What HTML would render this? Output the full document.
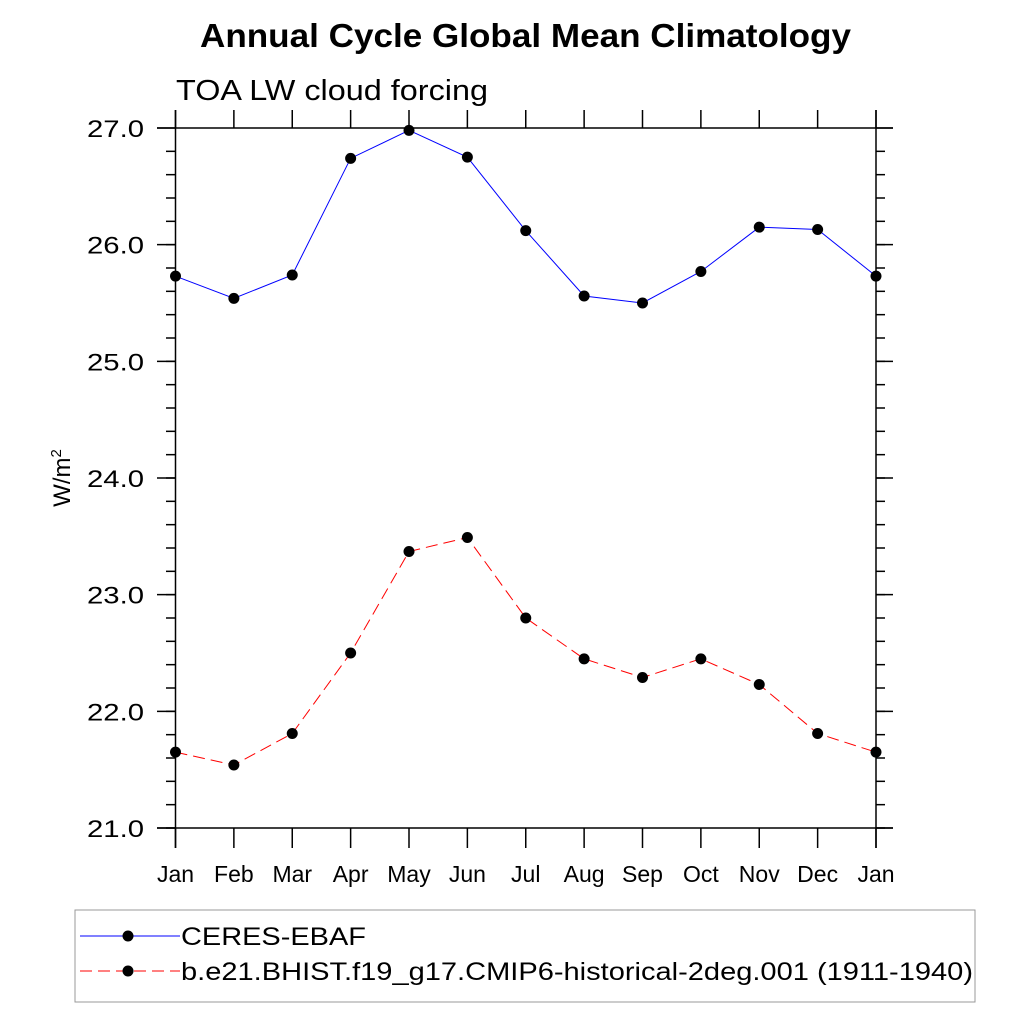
<!DOCTYPE html>
<html><head><meta charset="utf-8"><style>body{margin:0;background:#fff}svg{display:block;font-family:"Liberation Sans",sans-serif}</style></head>
<body>
<svg id="c" width="1024" height="1024" xmlns="http://www.w3.org/2000/svg">
<text x="200" y="47" font-size="33" font-weight="bold" textLength="651" lengthAdjust="spacingAndGlyphs">Annual Cycle Global Mean Climatology</text>
<text x="176" y="100" font-size="29" textLength="312" lengthAdjust="spacingAndGlyphs">TOA LW cloud forcing</text>
<text transform="translate(70,478) rotate(-90)" text-anchor="middle" font-size="24">W/m<tspan dy="-9" font-size="15">2</tspan></text>
<g id="axes"></g>
<g id="series"></g>
<rect x="75" y="910" width="900" height="92" fill="none" stroke="#999" stroke-width="1"/>
<g>
<line x1="80" y1="936" x2="180" y2="936" stroke="#00f" stroke-width="1"/>
<circle cx="128" cy="936" r="5.5" fill="#000"/>
<text x="181" y="945" font-size="25" textLength="185" lengthAdjust="spacingAndGlyphs">CERES-EBAF</text></g>
<g>
<line x1="80" y1="971" x2="180" y2="971" stroke="#f00" stroke-width="1" stroke-dasharray="12,6"/>
<circle cx="128" cy="971" r="5.5" fill="#000"/>
<text x="181" y="980" font-size="25" textLength="792" lengthAdjust="spacingAndGlyphs">b.e21.BHIST.f19_g17.CMIP6-historical-2deg.001 (1911-1940)</text></g>
</svg>
<script>
const months=["Jan","Feb","Mar","Apr","May","Jun","Jul","Aug","Sep","Oct","Nov","Dec","Jan"];
const ceres=[25.73,25.54,25.74,26.74,26.98,26.75,26.12,25.56,25.50,25.77,26.15,26.13,25.73];
const model=[21.65,21.54,21.81,22.50,23.37,23.49,22.80,22.45,22.29,22.45,22.23,21.81,21.65];
const yTicks=[21.0,22.0,23.0,24.0,25.0,26.0,27.0];
const NS="http://www.w3.org/2000/svg";
const X0=175.5,X1=876,Y0=828,Y1=128,YMIN=21,YMAX=27;
const xs=i=>X0+(X1-X0)*i/(months.length-1);
const ys=v=>Y0-(v-YMIN)/(YMAX-YMIN)*(Y0-Y1);
function mk(p,tag,at){const e=document.createElementNS(NS,tag);for(const k in at)e.setAttribute(k,at[k]);p.appendChild(e);return e;}
const ax=document.getElementById('axes');
const ln=(x1,y1,x2,y2)=>mk(ax,'line',{x1,y1,x2,y2,stroke:'#000','stroke-width':1.5});
ln(157,Y1,893,Y1);ln(157,Y0,893,Y0);ln(X0,110,X0,848);ln(X1,110,X1,848);
months.forEach((m,i)=>{const x=xs(i);ln(x,110,x,Y1);ln(x,Y0,x,848);
 const t=mk(ax,'text',{x:x,y:882,'text-anchor':'middle','font-size':23});t.textContent=m;
 
 });
yTicks.forEach(v=>{const y=ys(v);ln(157,y,X0,y);ln(X1,y,893,y);
 const t=mk(ax,'text',{x:87,y:y+9,'font-size':24,textLength:57,lengthAdjust:'spacingAndGlyphs'});t.textContent=v.toFixed(1);
 
 });
for(let v=YMIN;v<YMAX-0.01;v+=0.2){const y=ys(v);ln(166,y,X0,y);ln(X1,y,885,y);}
const sg=document.getElementById('series');
function draw(d,col,dash,name){const g=mk(sg,'g',{});
 
 
 mk(g,'polyline',{points:d.map((v,i)=>xs(i)+','+ys(v)).join(' '),fill:'none',stroke:col,'stroke-width':1,'stroke-dasharray':dash});
 d.forEach((v,i)=>{const c=mk(g,'circle',{cx:xs(i),cy:ys(v),r:5.5,fill:'#000'});
  
  });}
draw(ceres,'#00f','none','ceres-series');
draw(model,'#f00','12,6','model-series');
</script>
</body></html>
